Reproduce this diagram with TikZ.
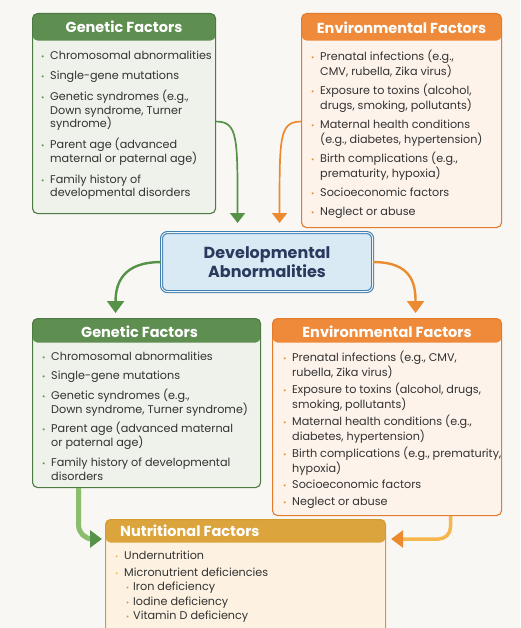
\documentclass[tikz,border=0pt]{standalone}
\usepackage{fontspec}
\setmainfont{Poppins}
\usetikzlibrary{arrows.meta}

\definecolor{bgc}{RGB}{249,247,244}
\definecolor{txt}{RGB}{50,50,50}
\definecolor{gLine}{RGB}{76,122,66}
\definecolor{gHead}{RGB}{94,142,80}
\definecolor{gBody}{RGB}{238,242,234}
\definecolor{gArr}{RGB}{86,146,72}
\definecolor{gArrL}{RGB}{138,190,108}
\definecolor{oLine}{RGB}{226,124,44}
\definecolor{oHead}{RGB}{238,138,58}
\definecolor{oBody}{RGB}{253,243,235}
\definecolor{oArr}{RGB}{236,138,48}
\definecolor{yLine}{RGB}{212,156,46}
\definecolor{yHead}{RGB}{219,164,60}
\definecolor{yBody}{RGB}{253,242,226}
\definecolor{yArr}{RGB}{245,182,78}
\definecolor{bLine}{RGB}{66,128,176}
\definecolor{bBody}{RGB}{217,234,245}
\definecolor{navy}{RGB}{42,58,94}

\newcommand{\bul}[1]{\makebox[9pt][l]{\textcolor{#1}{\fontsize{8}{8}\selectfont\textbullet}}\rule{0pt}{9pt}}
\newcommand{\sbul}[1]{\makebox[7pt][l]{\textcolor{#1}{\fontsize{7.5}{7.5}\selectfont\textbullet}}}
\newcommand{\ind}{\hspace*{9pt}}

\tikzset{
  card/.style n args={4}{draw=#1, fill=#2, line width=1.1pt, rounded corners=5pt,
    inner sep=0pt, anchor=north west,
    path picture={\fill[#3] (path picture bounding box.north west) rectangle ([yshift=-#4]path picture bounding box.north east);}},
  ttl/.style={text=white, font=\bfseries\fontsize{14.5}{16}\selectfont, inner sep=0pt},
  lst/.style={anchor=north west, align=left, inner sep=0pt, text=txt, font=\fontsize{11.2}{#1}\selectfont},
  ga/.style={draw=gArr, line width=1.7pt, -{Triangle[width=15pt,length=10pt]}},
  oa/.style={draw=oArr, line width=1.7pt, -{Triangle[width=15pt,length=10pt]}},
}

\begin{document}
\begin{tikzpicture}[x=1pt,y=1pt,yscale=-1,xscale=1]
\clip (0,0) rectangle (520,628);
\fill[bgc] (0,0) rectangle (520,628);

%Rounded Rect
\node (gen1) [card={gLine}{gBody}{gHead}{27pt}, minimum width=183pt, minimum height=200pt] at (32,13) {};
%Rounded Rect
\node (env1) [card={oLine}{oBody}{oHead}{27pt}, minimum width=200pt, minimum height=214pt] at (301,13) {};
%Rounded Rect
\node (dev) [draw=bLine, fill=bBody, line width=1.1pt, double=bBody!40!white, double distance=0.9pt,
  rounded corners=6pt, minimum width=211pt, minimum height=59pt, anchor=north west, align=center,
  text=navy, font=\bfseries\fontsize{16}{19}\selectfont] at (161,232) {Developmental\\Abnormalities};
%Rounded Rect
\node (gen2) [card={gLine}{gBody}{gHead}{24pt}, minimum width=228pt, minimum height=169pt] at (32,318) {};
%Rounded Rect
\node (env2) [card={oLine}{oBody}{oHead}{24pt}, minimum width=229pt, minimum height=197pt] at (272,318) {};
%Rounded Rect
\node (nut) [card={yLine}{yBody}{yHead}{23pt}, minimum width=280pt, minimum height=125pt] at (105,519) {};

% Text Node
\node (gen1t) [ttl] at ([yshift=14pt]gen1.north) {Genetic Factors};
\node (env1t) [ttl] at ([yshift=15pt]env1.north) {Environmental Factors};
\node (gen2t) [ttl] at ([xshift=-7pt,yshift=14pt]gen2.north) {Genetic Factors};
\node (env2t) [ttl] at ([yshift=14pt]env2.north) {Environmental Factors};
\node (nutt) [ttl, anchor=west] at ([xshift=15pt,yshift=12pt]nut.north west) {Nutritional Factors};

% Text Node
\node (gen1l) [lst=13.7pt] at ([xshift=9pt,yshift=37pt]gen1.north west) {%
\bul{gArr}Chromosomal abnormalities\\[7pt]
\bul{gArr}Single-gene mutations\\[7pt]
\bul{gArr}Genetic syndromes (e.g.,\\
\ind Down syndrome, Turner\\
\ind syndrome)\\[7pt]
\bul{gArr}Parent age (advanced\\
\ind maternal or paternal age)\\[7pt]
\bul{gArr}Family history of\\
\ind developmental disorders};
% Text Node
\node (env1l) [lst=14.5pt] at ([xshift=10pt,yshift=37pt]env1.north west) {%
\bul{oArr}Prenatal infections (e.g.,\\
\ind CMV, rubella, Zika virus)\\[5pt]
\bul{oArr}Exposure to toxins (alcohol,\\
\ind drugs, smoking, pollutants)\\[5pt]
\bul{oArr}Maternal health conditions\\
\ind (e.g., diabetes, hypertension)\\[5pt]
\bul{oArr}Birth complications (e.g.,\\
\ind prematurity, hypoxia)\\[4.5pt]
\bul{oArr}Socioeconomic factors\\[4.5pt]
\bul{oArr}Neglect or abuse};
% Text Node
\node (gen2l) [lst=14pt] at ([xshift=10pt,yshift=33pt]gen2.north west) {%
\bul{gArr}Chromosomal abnormalities\\[5.5pt]
\bul{gArr}Single-gene mutations\\[5.5pt]
\bul{gArr}Genetic syndromes (e.g.,\\
\ind Down syndrome, Turner syndrome)\\[5.5pt]
\bul{gArr}Parent age (advanced maternal\\
\ind or paternal age)\\[5.5pt]
\bul{gArr}Family history of developmental\\
\ind disorders};
% Text Node
\node (env2l) [lst=14.5pt] at ([xshift=11pt,yshift=33pt]env2.north west) {%
\bul{oArr}Prenatal infections (e.g., CMV,\\
\ind rubella, Zika virus)\\[3pt]
\bul{oArr}Exposure to toxins (alcohol, drugs,\\
\ind smoking, pollutants)\\[3pt]
\bul{oArr}Maternal health conditions (e.g.,\\
\ind diabetes, hypertension)\\[3pt]
\bul{oArr}Birth complications (e.g., prematurity,\\
\ind hypoxia)\\[2pt]
\bul{oArr}Socioeconomic factors\\[2pt]
\bul{oArr}Neglect or abuse};
% Text Node
\node (nutl) [lst=14.5pt] at ([xshift=10pt,yshift=31pt]nut.north west) {%
\bul{yArr}Undernutrition\\[2.5pt]
\bul{yArr}Micronutrient deficiencies\\
\hspace*{11pt}\sbul{oArr}Iron deficiency\\
\hspace*{11pt}\sbul{oArr}Iodine deficiency\\
\hspace*{11pt}\sbul{oArr}Vitamin D deficiency};

%Curve Lines
\draw [ga] ([yshift=8pt]gen1.east) .. controls +(22,0) and +(0,-85) .. ([xshift=-29.5pt,yshift=-9pt]dev.north);
\draw [oa] ([yshift=1pt]env1.west) .. controls +(-22,0) and +(0,-85) .. ([xshift=12.5pt,yshift=-9pt]dev.north);
\draw [ga, line width=2.4pt, -{Triangle[width=17pt,length=12pt]}] (dev.west) .. controls +(-38,0) and +(0,-30) .. ([xshift=-31pt,yshift=-5pt]gen2.north);
\draw [oa, line width=2.4pt, -{Triangle[width=17pt,length=12pt]}] (dev.east) .. controls +(38,0) and +(0,-30) .. ([xshift=28.5pt,yshift=-5pt]env2.north);

%Straight Lines
\draw [draw=gArrL, line width=5pt, rounded corners=14pt, -{Triangle[width=17pt,length=12pt,color=gArr]}] ([xshift=-68pt]gen2.south) |- ([xshift=-3pt,yshift=20pt]nut.north west);
\draw [draw=yArr, line width=3.5pt, rounded corners=12pt, -{Triangle[width=17pt,length=12pt,color=oArr]}] ([xshift=63.5pt]env2.south) |- ([xshift=5pt,yshift=20pt]nut.north east);

\end{tikzpicture}
\end{document}
